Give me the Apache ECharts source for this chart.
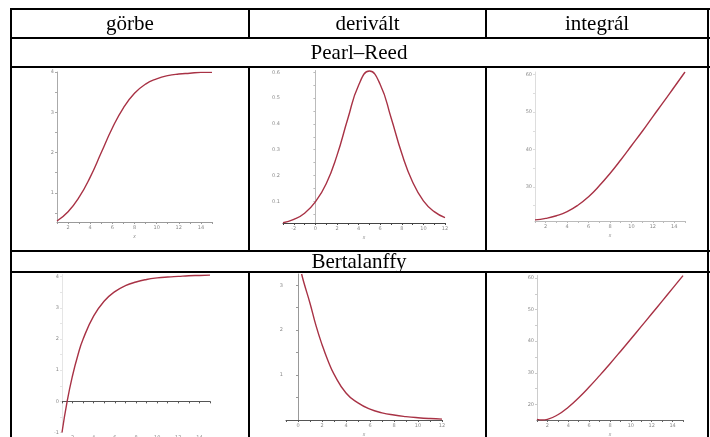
<!DOCTYPE html>
<html>
<head>
<meta charset="utf-8">
<script src="https://cdn.jsdelivr.net/npm/echarts@6/dist/echarts.min.js"></script>
<style>
html, body { margin: 0; padding: 0; background: #fff; }
#main { width: 710px; height: 437px; }
</style>
</head>
<body>
<div id="main"></div>
<script>
// table texts
const headers = ['görbe', 'derivált', 'integrál']
const rowTitles = ['Pearl–Reed', 'Bertalanffy']

// Pearl–Reed: curve, derivative, integral
const prX = [1, 2, 3, 4, 5, 6, 7, 8, 9, 10, 11, 12, 13, 14, 15]
const prCurve = [0.30, 0.53, 0.89, 1.39, 2.0, 2.61, 3.11, 3.47, 3.70, 3.83, 3.91, 3.95, 3.97, 3.99, 3.99]
const prDerivX = [-3, -2, -1, 0, 1, 2, 3, 4, 5, 6, 7, 8, 9, 10, 11, 12]
const prDeriv = [0.017, 0.03, 0.054, 0.098, 0.168, 0.278, 0.42, 0.55, 0.605, 0.553, 0.425, 0.285, 0.175, 0.102, 0.06, 0.037]
const prInteg = [21.2, 21.6, 22.3, 23.4, 25.1, 27.4, 30.3, 33.6, 37.2, 41.0, 44.8, 48.8, 52.7, 56.7, 60.7]

// Bertalanffy: curve, derivative, integral
const bX = [1, 1.5, 2, 2.5, 3, 4, 5, 6, 7, 8, 9, 10, 11, 12, 13, 14, 15]
const bCurve = [-1.0, 0.02, 0.83, 1.48, 2.0, 2.74, 3.22, 3.52, 3.71, 3.83, 3.91, 3.96, 3.99, 4.01, 4.03, 4.04, 4.05]
const bDerivX = [0.3, 0.5, 1, 1.5, 2, 2.5, 3, 4, 5, 6, 7, 8, 9, 10, 11, 12]
const bDeriv = [3.25, 3.05, 2.6, 2.1, 1.68, 1.32, 1.02, 0.6, 0.38, 0.24, 0.16, 0.11, 0.075, 0.05, 0.032, 0.02]
const bIntegX = [1, 1.5, 2, 3, 4, 5, 6, 7, 8, 9, 10, 11, 12, 13, 14, 15]
const bInteg = [15.27, 15.05, 15.26, 16.71, 19.11, 22.1, 25.48, 29.1, 32.88, 36.76, 40.7, 44.68, 48.68, 52.7, 56.73, 60.77]

// tick labels
const evenTicks = [2, 4, 6, 8, 10, 12, 14]
const prDerivXTicks = [-2, 0, 2, 4, 6, 8, 10, 12]
const bDerivXTicks = [0, 2, 4, 6, 8, 10, 12]
const prCurveYTicks = [1, 2, 3, 4]
const prDerivYTicks = [0.1, 0.2, 0.3, 0.4, 0.5, 0.6]
const prIntegYTicks = [30, 40, 50, 60]
const bCurveYTicks = [-1, 0, 1, 2, 3, 4]
const bDerivYTicks = [1, 2, 3]
const bIntegYTicks = [20, 30, 40, 50, 60]

const zip = (xs, ys) => xs.map((x, i) => [x, ys[i]])
// major ticks plus the small ticks halfway between them
const withMinor = (t) => {
  const out = []
  const step = t.length > 1 ? t[1] - t[0] : 1
  t.forEach(v => { out.push(v); out.push(+(v - step / 2).toFixed(4)) })
  out.push(+(t[t.length - 1] + step / 2).toFixed(4))
  return out
}

const labelStyle = { fontSize: 5, color: '#8a8a8a', fontFamily: 'DejaVu Sans', margin: 3 }

const panels = [
  { grid: { left: 57, top: 72, width: 155, height: 150 }, x: [1, 15], y: [0.275, 4.0],
    xt: evenTicks, yt: prCurveYTicks, xc: '#9a9a9a', yc: '#aaaaaa', data: zip(prX, prCurve) },
  { grid: { left: 283, top: 70.5, width: 162, height: 152.5 }, x: [-3, 12], y: [0.016, 0.607],
    xt: prDerivXTicks, yt: prDerivYTicks, xc: '#444', yc: '#bbbbbb', data: zip(prDerivX, prDeriv) },
  { grid: { left: 535, top: 72, width: 150, height: 149 }, x: [1, 15], y: [20.9, 60.7],
    xt: evenTicks, yt: prIntegYTicks, xc: '#bbbbbb', yc: '#dddddd', data: zip(prX, prInteg) },
  { grid: { left: 62, top: 274.5, width: 148, height: 158 }, x: [1, 15], y: [-1, 4.07],
    xt: evenTicks, yt: bCurveYTicks, xc: '#555', yc: '#e5e5e5', data: zip(bX, bCurve) },
  { grid: { left: 286, top: 274, width: 156, height: 146 }, x: [-1, 12], y: [0, 3.25],
    xt: bDerivXTicks, yt: bDerivYTicks, xc: '#555', yc: '#999999', data: zip(bDerivX, bDeriv) },
  { grid: { left: 537, top: 275.5, width: 146, height: 144.5 }, x: [1, 15], y: [15.05, 60.8],
    xt: evenTicks, yt: bIntegYTicks, xc: '#666', yc: '#cccccc', data: zip(bIntegX, bInteg) }
]

const grid = [], xAxis = [], yAxis = [], series = []
panels.forEach((p, i) => {
  // keep the plot box exactly where it is set, labels may hang outside
  grid.push(Object.assign({ containLabel: false, outerBoundsMode: 'none' }, p.grid))
  xAxis.push({
    type: 'value', gridIndex: i, min: p.x[0], max: p.x[1],
    name: 'x', nameLocation: 'middle', nameGap: 12,
    nameTextStyle: { fontSize: 5, color: '#8a8a8a', fontStyle: 'italic' },
    axisLine: { onZero: true, lineStyle: { color: p.xc, width: 1 } },
    axisTick: { show: true, length: 2, customValues: withMinor(p.xt), lineStyle: { color: p.xc } },
    axisLabel: Object.assign({ customValues: p.xt }, labelStyle),
    splitLine: { show: false }
  })
  yAxis.push({
    type: 'value', gridIndex: i, min: p.y[0], max: p.y[1],
    axisLine: { show: true, onZero: true, lineStyle: { color: p.yc, width: 1 } },
    axisTick: { show: true, length: 2, customValues: withMinor(p.yt), lineStyle: { color: p.yc } },
    axisLabel: Object.assign({ customValues: p.yt }, labelStyle),
    splitLine: { show: false }
  })
  series.push({
    type: 'line', xAxisIndex: i, yAxisIndex: i, data: p.data,
    smooth: true, showSymbol: false, clip: true,
    lineStyle: { color: '#a83245', width: 1.4 }
  })
})

// table ruling and texts
const line = (x1, y1, x2, y2) => ({
  type: 'line', shape: { x1, y1, x2, y2 }, style: { stroke: '#000', lineWidth: 2 }, z: 100
})
const text = (t, x, y) => ({
  type: 'text', x, y, z: 100,
  style: { text: t, fontSize: 21, fontFamily: 'Liberation Serif', fill: '#000', align: 'center', verticalAlign: 'middle' }
})
const graphic = [
  line(11, 9, 710, 9), line(11, 38, 710, 38), line(11, 67, 710, 67),
  line(11, 251, 710, 251), line(11, 272, 710, 272),
  line(11, 8, 11, 437), line(708, 8, 708, 437),
  line(249, 8, 249, 38), line(486, 8, 486, 38),
  line(249, 67, 249, 251), line(486, 67, 486, 251),
  line(249, 272, 249, 437), line(486, 272, 486, 437),
  text(headers[0], 130, 24), text(headers[1], 367.5, 24), text(headers[2], 597, 24),
  text(rowTitles[0], 359, 53), text(rowTitles[1], 359, 262)
]

const mychart = echarts.init(document.getElementById('main'))
mychart.setOption({
  animation: false,
  backgroundColor: '#fff',
  grid, xAxis, yAxis, series, graphic
})
</script>
</body>
</html>
